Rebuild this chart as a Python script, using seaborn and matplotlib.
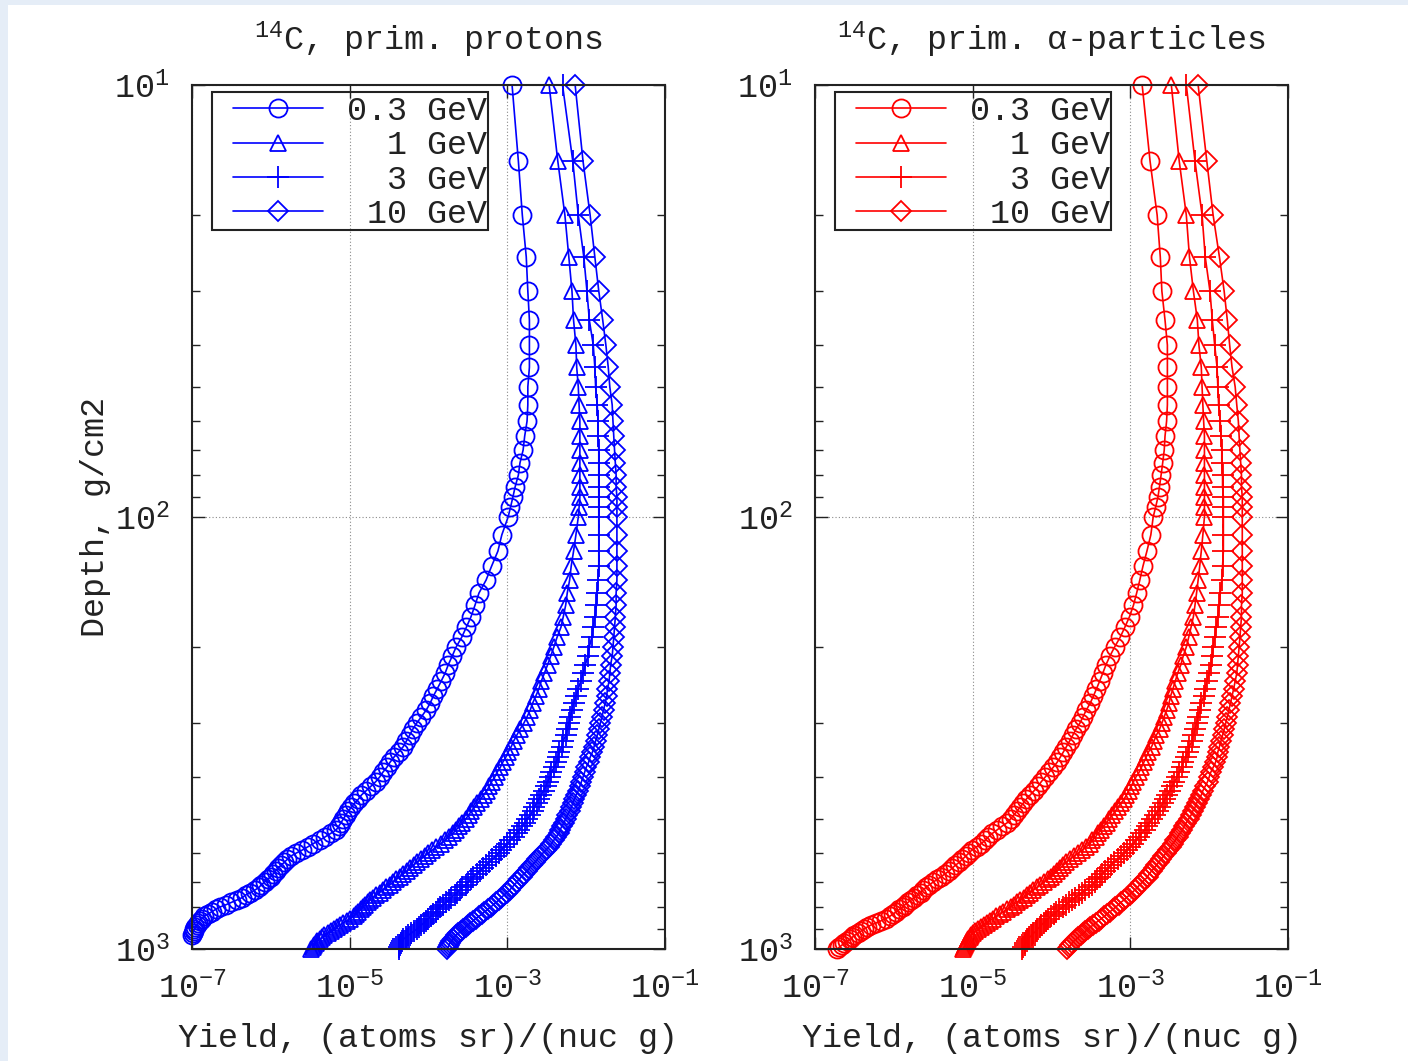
import numpy as np
import pandas as pd
import matplotlib
matplotlib.use("Agg")
import matplotlib.pyplot as plt
import seaborn as sns
from matplotlib.ticker import FixedLocator, NullLocator, NullFormatter
from matplotlib.patches import Rectangle

# ---------------- data (log10 of yield, atoms sr / (nuc g)) ----------------
DEPTH = [10, 15, 20, 25, 30, 35, 40, 45, 50, 55, 60, 65, 70, 75, 80, 85, 90, 95, 100,
         110, 120, 130, 140, 150, 160, 170, 180, 190, 200,
         210, 220, 230, 240, 250, 260, 270, 280, 290, 300,
         310, 320, 330, 340, 350, 360, 370, 380, 390, 400,
         410, 420, 430, 440, 450, 460, 470, 480, 490, 500,
         510, 520, 530, 540, 550, 560, 570, 580, 590, 600,
         610, 620, 630, 640, 650, 660, 670, 680, 690, 700,
         710, 720, 730, 740, 750, 760, 770, 780, 790, 800,
         810, 820, 830, 840, 850, 860, 870, 880, 890, 900,
         910, 920, 930, 940, 950, 960, 970, 980, 990, 1000]

NAN = float("nan")

# primary protons
P03 = [-2.94, -2.86, -2.81, -2.76, -2.74, -2.72, -2.72, -2.72, -2.74, -2.74, -2.75, -2.78, -2.80, -2.84, -2.86, -2.90, -2.93, -2.96, -2.99,
       -3.07, -3.12, -3.20, -3.27, -3.36, -3.41, -3.46, -3.52, -3.58, -3.65,
       -3.70, -3.75, -3.79, -3.84, -3.89, -3.94, -3.98, -4.03, -4.09, -4.15,
       -4.20, -4.24, -4.28, -4.32, -4.38, -4.44, -4.49, -4.53, -4.58, -4.62,
       -4.67, -4.73, -4.79, -4.85, -4.89, -4.94, -4.98, -5.02, -5.05, -5.08,
       -5.11, -5.14, -5.17, -5.24, -5.31, -5.38, -5.46, -5.53, -5.60, -5.68,
       -5.75, -5.79, -5.83, -5.87, -5.91, -5.94, -5.97, -6.00, -6.04, -6.08,
       -6.12, -6.15, -6.20, -6.26, -6.32, -6.36, -6.43, -6.50, -6.57, -6.65,
       -6.70, -6.75, -6.80, -6.85, -6.87, -6.90, -6.92, -6.94, -6.96, -6.97,
       -6.98, -6.99, -7.00, NAN, NAN, NAN, NAN, NAN, NAN, NAN]
P1 = [-2.47, -2.36, -2.27, -2.22, -2.18, -2.16, -2.13, -2.12, -2.10, -2.09, -2.08, -2.08, -2.08, -2.08, -2.08, -2.08, -2.08, -2.09, -2.10,
      -2.13, -2.16, -2.19, -2.21, -2.24, -2.26, -2.29, -2.32, -2.37, -2.41,
      -2.45, -2.49, -2.53, -2.57, -2.60, -2.64, -2.68, -2.71, -2.75, -2.79,
      -2.84, -2.88, -2.92, -2.95, -2.99, -3.02, -3.06, -3.09, -3.13, -3.16,
      -3.20, -3.23, -3.26, -3.30, -3.34, -3.38, -3.42, -3.46, -3.49, -3.53,
      -3.57, -3.61, -3.65, -3.69, -3.74, -3.79, -3.84, -3.90, -3.95, -4.00,
      -4.05, -4.10, -4.15, -4.19, -4.23, -4.27, -4.32, -4.36, -4.41, -4.45,
      -4.49, -4.54, -4.58, -4.62, -4.67, -4.71, -4.74, -4.77, -4.80, -4.83,
      -4.86, -4.89, -4.92, -4.95, -4.99, -5.03, -5.08, -5.12, -5.16, -5.20,
      -5.24, -5.28, -5.32, -5.35, -5.38, -5.41, -5.43, -5.45, -5.47, -5.49]
P3 = [-2.30, -2.17, -2.10, -2.03, -1.99, -1.96, -1.91, -1.89, -1.88, -1.86, -1.85, -1.85, -1.84, -1.84, -1.84, -1.84, -1.84, -1.84, -1.84,
      -1.84, -1.84, -1.84, -1.85, -1.86, -1.87, -1.89, -1.91, -1.93, -1.96,
      -1.98, -2.01, -2.04, -2.07, -2.10, -2.13, -2.16, -2.18, -2.20, -2.22,
      -2.24, -2.26, -2.29, -2.31, -2.34, -2.36, -2.38, -2.41, -2.44, -2.46,
      -2.49, -2.51, -2.54, -2.57, -2.60, -2.63, -2.66, -2.68, -2.71, -2.75,
      -2.78, -2.81, -2.85, -2.88, -2.92, -2.96, -3.00, -3.04, -3.08, -3.11,
      -3.15, -3.19, -3.23, -3.27, -3.31, -3.35, -3.39, -3.43, -3.46, -3.50,
      -3.53, -3.57, -3.60, -3.64, -3.67, -3.71, -3.74, -3.78, -3.81, -3.85,
      -3.88, -3.91, -3.94, -3.97, -4.00, -4.03, -4.06, -4.09, -4.12, -4.15,
      -4.19, -4.22, -4.26, -4.29, -4.32, -4.33, -4.35, -4.36, -4.37, -4.38]
P10 = [-2.14, -2.04, -1.95, -1.89, -1.84, -1.79, -1.75, -1.72, -1.70, -1.67, -1.66, -1.65, -1.64, -1.63, -1.62, -1.62, -1.61, -1.61, -1.61,
       -1.61, -1.61, -1.61, -1.61, -1.62, -1.62, -1.63, -1.64, -1.65, -1.66,
       -1.67, -1.69, -1.70, -1.71, -1.73, -1.74, -1.76, -1.78, -1.80, -1.82,
       -1.84, -1.86, -1.88, -1.90, -1.92, -1.95, -1.97, -2.00, -2.02, -2.04,
       -2.06, -2.08, -2.10, -2.13, -2.15, -2.17, -2.19, -2.21, -2.24, -2.26,
       -2.28, -2.31, -2.33, -2.35, -2.38, -2.41, -2.44, -2.47, -2.51, -2.55,
       -2.58, -2.62, -2.65, -2.69, -2.72, -2.75, -2.79, -2.82, -2.85, -2.88,
       -2.91, -2.94, -2.97, -3.01, -3.04, -3.08, -3.11, -3.14, -3.18, -3.21,
       -3.25, -3.29, -3.32, -3.36, -3.40, -3.43, -3.47, -3.50, -3.53, -3.56,
       -3.59, -3.62, -3.65, -3.67, -3.69, -3.71, -3.73, -3.74, -3.75, -3.76]

# primary alpha-particles
A03 = [-2.85, -2.75, -2.66, -2.62, -2.60, -2.56, -2.53, -2.53, -2.53, -2.53, -2.54, -2.56, -2.57, -2.59, -2.61, -2.63, -2.65, -2.68, -2.71,
       -2.74, -2.79, -2.84, -2.88, -2.92, -2.96, -3.01, -3.07, -3.13, -3.20,
       -3.26, -3.31, -3.35, -3.39, -3.43, -3.47, -3.51, -3.56, -3.60, -3.64,
       -3.69, -3.73, -3.77, -3.81, -3.85, -3.89, -3.93, -3.98, -4.03, -4.08,
       -4.13, -4.17, -4.22, -4.27, -4.32, -4.36, -4.40, -4.44, -4.48, -4.52,
       -4.56, -4.63, -4.69, -4.75, -4.80, -4.84, -4.89, -4.95, -5.01, -5.05,
       -5.09, -5.13, -5.17, -5.22, -5.26, -5.30, -5.35, -5.40, -5.45, -5.50,
       -5.55, -5.59, -5.63, -5.66, -5.70, -5.74, -5.78, -5.82, -5.86, -5.89,
       -5.93, -5.97, -6.01, -6.05, -6.10, -6.16, -6.22, -6.29, -6.34, -6.38,
       -6.42, -6.46, -6.50, -6.53, -6.56, -6.60, -6.63, -6.66, -6.69, -6.72]
A1 = [-2.48, -2.38, -2.29, -2.25, -2.20, -2.15, -2.13, -2.10, -2.09, -2.08, -2.07, -2.06, -2.06, -2.06, -2.06, -2.06, -2.06, -2.06, -2.06,
      -2.08, -2.10, -2.12, -2.14, -2.16, -2.18, -2.20, -2.23, -2.26, -2.29,
      -2.33, -2.36, -2.40, -2.43, -2.46, -2.49, -2.51, -2.54, -2.57, -2.60,
      -2.63, -2.67, -2.70, -2.73, -2.77, -2.80, -2.83, -2.86, -2.89, -2.93,
      -2.96, -2.99, -3.02, -3.05, -3.08, -3.12, -3.16, -3.19, -3.23, -3.27,
      -3.30, -3.34, -3.37, -3.41, -3.44, -3.48, -3.51, -3.56, -3.61, -3.66,
      -3.72, -3.77, -3.81, -3.85, -3.89, -3.93, -3.97, -4.01, -4.05, -4.10,
      -4.14, -4.18, -4.23, -4.27, -4.31, -4.35, -4.40, -4.44, -4.48, -4.52,
      -4.57, -4.61, -4.65, -4.70, -4.74, -4.78, -4.82, -4.86, -4.90, -4.93,
      -4.97, -5.00, -5.02, -5.04, -5.06, -5.07, -5.08, -5.10, -5.11, -5.12]
A3 = [-2.29, -2.18, -2.09, -2.05, -1.99, -1.96, -1.93, -1.90, -1.89, -1.88, -1.86, -1.85, -1.84, -1.84, -1.83, -1.83, -1.82, -1.82, -1.82,
      -1.82, -1.82, -1.83, -1.84, -1.86, -1.87, -1.89, -1.91, -1.93, -1.95,
      -1.96, -1.98, -2.00, -2.03, -2.05, -2.07, -2.10, -2.12, -2.14, -2.16,
      -2.18, -2.20, -2.22, -2.25, -2.27, -2.30, -2.33, -2.35, -2.38, -2.41,
      -2.44, -2.47, -2.50, -2.53, -2.56, -2.59, -2.62, -2.65, -2.69, -2.72,
      -2.76, -2.79, -2.82, -2.86, -2.89, -2.93, -2.96, -3.00, -3.04, -3.08,
      -3.12, -3.16, -3.21, -3.25, -3.28, -3.32, -3.36, -3.39, -3.42, -3.45,
      -3.48, -3.52, -3.57, -3.61, -3.65, -3.70, -3.74, -3.78, -3.82, -3.86,
      -3.90, -3.94, -3.97, -4.01, -4.04, -4.07, -4.10, -4.13, -4.15, -4.18,
      -4.20, -4.23, -4.25, -4.28, -4.30, -4.31, -4.33, -4.34, -4.36, -4.37]
A10 = [-2.14, -2.03, -1.95, -1.87, -1.81, -1.77, -1.74, -1.71, -1.67, -1.65, -1.63, -1.62, -1.61, -1.60, -1.59, -1.59, -1.58, -1.58, -1.58,
       -1.58, -1.58, -1.58, -1.58, -1.58, -1.59, -1.59, -1.60, -1.61, -1.62,
       -1.63, -1.64, -1.65, -1.67, -1.69, -1.71, -1.73, -1.75, -1.77, -1.79,
       -1.81, -1.83, -1.85, -1.87, -1.89, -1.90, -1.92, -1.95, -1.98, -2.00,
       -2.02, -2.05, -2.08, -2.10, -2.13, -2.16, -2.18, -2.21, -2.23, -2.26,
       -2.29, -2.32, -2.34, -2.37, -2.40, -2.43, -2.46, -2.49, -2.52, -2.55,
       -2.58, -2.61, -2.64, -2.67, -2.70, -2.73, -2.76, -2.78, -2.81, -2.85,
       -2.88, -2.91, -2.94, -2.98, -3.01, -3.05, -3.08, -3.12, -3.15, -3.19,
       -3.22, -3.26, -3.30, -3.33, -3.37, -3.40, -3.44, -3.47, -3.51, -3.54,
       -3.57, -3.60, -3.63, -3.66, -3.69, -3.72, -3.74, -3.76, -3.78, -3.80]

LABELS = ["0.3 GeV", "  1 GeV", "  3 GeV", " 10 GeV"]
TITLES = [r"$\mathregular{^{14}}$C, prim. protons", r"$\mathregular{^{14}}$C, prim. α-particles"]
XTICKS = [1e-7, 1e-5, 1e-3, 1e-1]
XTICKLABELS = [r"$\mathregular{10^{-7}}$", r"$\mathregular{10^{-5}}$", r"$\mathregular{10^{-3}}$", r"$\mathregular{10^{-1}}$"]
YTICKS = [10, 100, 1000]
YTICKLABELS = [r"$\mathregular{10^{1}}$", r"$\mathregular{10^{2}}$", r"$\mathregular{10^{3}}$"]
YMINOR = [20, 30, 40, 50, 60, 70, 80, 90, 200, 300, 400, 500, 600, 700, 800, 900]

# ---------------- style ----------------
sns.set_style("white")
plt.rcParams["font.family"] = ["Liberation Mono", "DejaVu Sans"]
plt.rcParams["mathtext.fontset"] = "custom"
plt.rcParams["mathtext.rm"] = "Liberation Mono"
plt.rcParams["mathtext.it"] = "Liberation Mono"
plt.rcParams["axes.unicode_minus"] = True

TXT = "#222222"
FS = 24

fig = plt.figure(figsize=(14.08, 10.61), dpi=100)
fig.patch.set_facecolor("white")
fig.add_artist(Rectangle((0, 1 - 5 / 1061), 1, 5 / 1061, transform=fig.transFigure,
                         facecolor="#e5edf7", edgecolor="none", zorder=-5))
fig.add_artist(Rectangle((0, 0), 8 / 1408, 1, transform=fig.transFigure,
                         facecolor="#e5edf7", edgecolor="none", zorder=-5))

W, H = 1408, 1061
panels = [
    (192, "#0000ff", [P03, P1, P3, P10], TITLES[0], True),
    (815, "#ff0000", [A03, A1, A3, A10], TITLES[1], False),
]
markers = ["o", "^", "+", "D"]
msizes = [13, 12, 16, 10]

for x0, color, series, title, show_ylabel in panels:
    ax = fig.add_axes([x0 / W, 1 - 949 / H, 473 / W, 864 / H])
    ax.set_xscale("log")
    ax.set_yscale("log")
    ax.set_xlim(1e-7, 1e-1)
    ax.set_ylim(1000, 10)
    ax.set_axisbelow(True)
    for vals, lab, mk, ms in zip(series, LABELS, markers, msizes):
        df = pd.DataFrame({"depth": DEPTH, "yld": np.power(10.0, np.array(vals, dtype=float))})
        df = df.dropna()
        sns.lineplot(data=df, x="yld", y="depth", ax=ax, sort=False, estimator=None,
                     color=color, marker=mk, markersize=ms, markerfacecolor="none",
                     markeredgecolor=color, markeredgewidth=1.3, linewidth=1.2,
                     label=lab, clip_on=False)
    ax.set_xlim(1e-7, 1e-1)
    ax.set_ylim(1000, 10)

    ax.set_xticks(XTICKS)
    ax.set_xticklabels(XTICKLABELS)
    ax.xaxis.set_minor_locator(NullLocator())
    ax.set_yticks(YTICKS)
    ax.set_yticklabels(YTICKLABELS)
    ax.yaxis.set_minor_locator(FixedLocator(YMINOR))
    ax.yaxis.set_minor_formatter(NullFormatter())

    ax.tick_params(which="both", direction="in", top=True, right=True, bottom=True, left=True,
                   color=TXT, labelsize=FS, labelcolor=TXT)
    ax.tick_params(which="major", length=9, width=1.0)
    ax.tick_params(which="minor", length=6, width=1.0)
    ax.tick_params(axis="x", which="major", pad=17)
    ax.tick_params(axis="y", which="major", pad=16)

    ax.grid(True, which="major", linestyle=(0, (1, 2)), color="#8a8a8a", linewidth=0.8)
    for sp in ax.spines.values():
        sp.set_color(TXT)
        sp.set_linewidth(1.5)

    ax.set_title(title, fontsize=FS, color=TXT, pad=25)
    ax.set_xlabel("Yield, (atoms sr)/(nuc g)", fontsize=FS, color=TXT)
    ax.xaxis.set_label_coords(0.5, -0.086)
    if show_ylabel:
        ax.set_ylabel("Depth, g/cm2", fontsize=FS, color=TXT)
        ax.yaxis.set_label_coords(-0.172, 0.5)
    else:
        ax.set_ylabel("")

    # legend: entries without frame, frame drawn as a box in axes coordinates
    leg = ax.legend(loc="upper left", bbox_to_anchor=((233 - 192) / 473, (949 - 96) / 864),
                    borderaxespad=0, frameon=False, fontsize=FS, handlelength=2.7,
                    handletextpad=0.72, borderpad=0.0, labelspacing=0.1)
    for t in leg.get_texts():
        t.set_color(TXT)
    ax.add_patch(Rectangle(((212 - 192) / 473, (949 - 230) / 864), (488 - 212) / 473, (230 - 92) / 864,
                           transform=ax.transAxes, facecolor="none", edgecolor=TXT,
                           linewidth=1.5, zorder=4, clip_on=False))

fig.savefig("out.png", dpi=100, facecolor=fig.get_facecolor())
